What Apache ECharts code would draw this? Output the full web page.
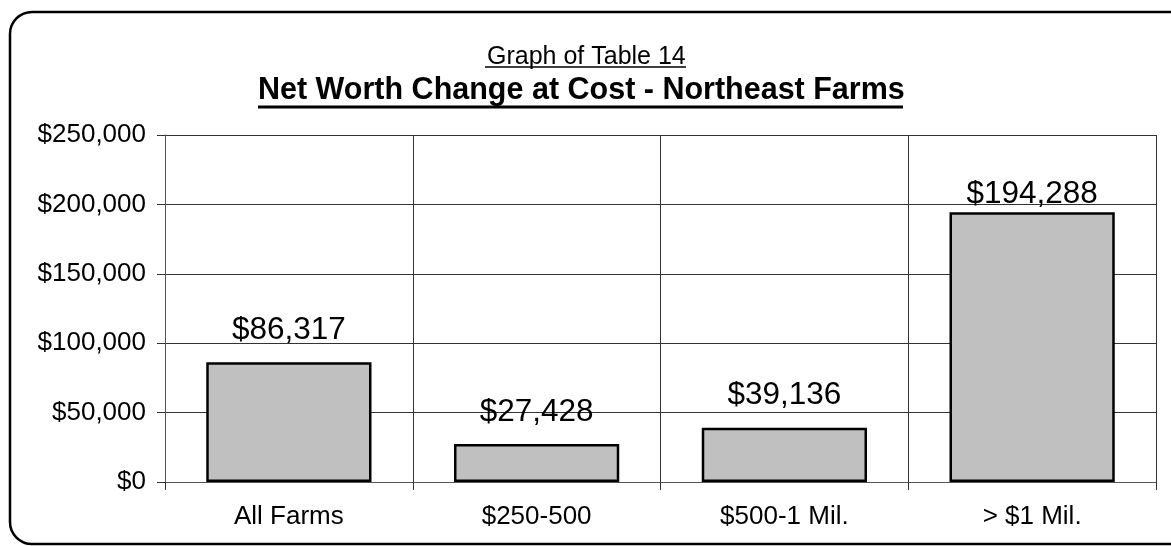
<!DOCTYPE html>
<html>
<head>
  <meta charset="utf-8">
  <title>Net Worth Change at Cost - Northeast Farms</title>
  <script src="https://cdn.jsdelivr.net/npm/echarts@6/dist/echarts.min.js"></script>
  <style>
    html, body { margin: 0; padding: 0; background: #fff; }
  </style>
</head>
<body>
  <div id="main" style="width:1171px;height:546px;"></div>
  <script>
    var categories = ['All Farms', '$250-500', '$500-1 Mil.', '> $1 Mil.'];
    var netWorthChange = [86317, 27428, 39136, 194288];
    var yTicks = [0, 50000, 100000, 150000, 200000, 250000];

    function money(v) {
      return '$' + Number(v).toLocaleString('en-US');
    }

    var chart = echarts.init(document.getElementById('main'));

    var seriesData = netWorthChange.map(function (v, i) {
      // tallest bar's label sits closer to the bar in the original
      if (i === netWorthChange.length - 1) {
        return { value: v, label: { distance: 2 } };
      }
      return v;
    });

    var option = {
      backgroundColor: '#fff',
      animation: false,
      textStyle: { fontFamily: 'Liberation Sans, Arial, sans-serif' },
      title: [{
        text: 'Graph of Table 14',
        left: 482,
        top: 40,
        textStyle: { fontSize: 25, fontWeight: 'normal', color: '#000' }
      }, {
        text: 'Net Worth Change at Cost - Northeast Farms',
        left: 253,
        top: 70,
        textStyle: { fontSize: 30.5, fontWeight: 'bold', color: '#000' }
      }],
      graphic: [{
        type: 'rect',
        shape: { x: 10, y: 12, width: 1200, height: 532, r: 22 },
        style: { fill: 'none', stroke: '#000', lineWidth: 2.5 },
        silent: true
      }, {
        type: 'line',
        shape: { x1: 485, y1: 67, x2: 686, y2: 67 },
        style: { stroke: '#000', lineWidth: 1.5 }
      }, {
        type: 'line',
        shape: { x1: 258, y1: 107, x2: 903, y2: 107 },
        style: { stroke: '#000', lineWidth: 3 }
      }],
      grid: { left: 165, right: 15, top: 135, bottom: 64, containLabel: false },
      xAxis: {
        type: 'category',
        data: categories,
        axisLine: { lineStyle: { color: '#555', width: 1 } },
        axisTick: { show: true, length: 8, lineStyle: { color: '#333' } },
        axisLabel: { color: '#000', fontSize: 26, margin: 22 },
        splitLine: { show: true, lineStyle: { color: '#333', width: 1 } }
      },
      yAxis: {
        type: 'value',
        min: yTicks[0],
        max: yTicks[yTicks.length - 1],
        interval: yTicks[1] - yTicks[0],
        axisLine: { show: true, lineStyle: { color: '#555', width: 1 } },
        axisTick: { show: true, length: 8, lineStyle: { color: '#333' } },
        axisLabel: { color: '#000', fontSize: 26, margin: 19, formatter: money },
        splitLine: { show: true, lineStyle: { color: '#333', width: 1 } }
      },
      series: [{
        type: 'bar',
        data: seriesData,
        barCategoryGap: '33.3%',
        itemStyle: { color: '#c0c0c0', borderColor: '#000', borderWidth: 2.5 },
        label: {
          show: true,
          position: 'top',
          distance: 16,
          color: '#000',
          fontSize: 31.5,
          formatter: function (p) { return money(p.value); }
        }
      }]
    };

    chart.setOption(option);
  </script>
</body>
</html>
